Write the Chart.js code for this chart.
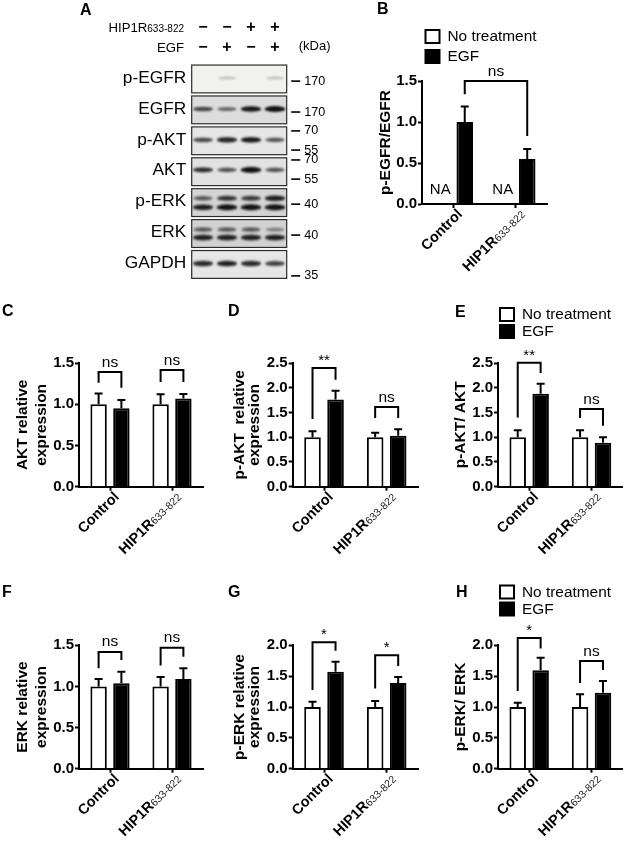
<!DOCTYPE html>
<html>
<head>
<meta charset="utf-8">
<script src="https://cdn.jsdelivr.net/npm/chart.js@4"></script>
<style>
  html, body { margin: 0; background: #fff; }
  #page { position: relative; width: 626px; height: 842px; overflow: hidden; }
  canvas { position: absolute; }
  .tag { position: absolute; font: bold 16px "Liberation Sans", Arial, sans-serif; color: #000; line-height: 18px; }
</style>
</head>
<body>
<div id="page"></div>
<script>
const FONT = '"Liberation Sans", Arial, sans-serif';

// panel A: western blots
const blotRows = ["p-EGFR", "EGFR", "p-AKT", "AKT", "p-ERK", "ERK", "GAPDH"];
const blotShade = ["#f1f1ef", "#dcdcdc", "#e6e6e6", "#e2e2e2", "#d4d4d4", "#d2d2d2", "#e6e6e6"];
const lanes = [1, 2, 3, 4];
const hipSigns = ["−", "−", "+", "+"];
const egfSigns = ["−", "+", "−", "+"];
const bandY = [-0.03, 0.97, 1.97, 2.94, 3.86, 4.15, 4.87, 5.13, 5.97];
const bandStrength = [
    [0, 0.22, 0, 0.22],
    [0.7, 0.55, 0.92, 1],
    [0.7, 0.85, 0.92, 0.65],
    [0.82, 0.65, 1, 0.65],
    [0.6, 0.8, 0.75, 0.9],
    [0.9, 1, 1, 1],
    [0.6, 0.6, 0.6, 0.45],
    [0.9, 0.9, 0.9, 0.9],
    [0.85, 0.9, 0.85, 0.75]
];
const markerY = [0.07, 1.07, 1.68, 2.3, 2.62, 3.24, 4.05, 5.05, 6.37];
const markerText = ["170", "170", "70", "55", "70", "55", "40", "40", "35"];

// bar panels
const groups = ["Control", "HIP1R633-822"];
const series = ["No treatment", "EGF"];

const pegfrNone = [null, null];
const pegfrEgf = [1.0, 0.55];
const pegfrEgfTop = [1.19, 0.67];

const aktNone = [1.0, 1.0];
const aktEgf = [0.95, 1.07];
const aktNoneTop = [1.13, 1.12];
const aktEgfTop = [1.05, 1.125];

const paktNone = [1.0, 1.0];
const paktEgf = [1.76, 1.03];
const paktNoneTop = [1.12, 1.09];
const paktEgfTop = [1.94, 1.16];

const paktRatioNone = [1.0, 1.0];
const paktRatioEgf = [1.88, 0.89];
const paktRatioNoneTop = [1.14, 1.14];
const paktRatioEgfTop = [2.08, 1.0];

const erkNone = [1.0, 1.0];
const erkEgf = [1.04, 1.09];
const erkNoneTop = [1.09, 1.115];
const erkEgfTop = [1.18, 1.22];

const perkNone = [1.0, 1.0];
const perkEgf = [1.57, 1.39];
const perkNoneTop = [1.086, 1.097];
const perkEgfTop = [1.735, 1.486];

const perkRatioNone = [1.0, 1.0];
const perkRatioEgf = [1.595, 1.23];
const perkRatioNoneTop = [1.07, 1.206];
const perkRatioEgfTop = [1.8, 1.42];

const page = document.getElementById("page");

function addCanvas(box) {
    const c = document.createElement("canvas");
    c.width = box.right - box.left;
    c.height = box.bottom - box.top;
    c.style.left = box.left + "px";
    c.style.top = box.top + "px";
    c.style.width = c.width + "px";
    c.style.height = c.height + "px";
    page.appendChild(c);
    return c.getContext("2d");
}

function addTag(text, x, y) {
    const d = document.createElement("div");
    d.className = "tag";
    d.textContent = text;
    d.style.left = x + "px";
    d.style.top = (y - 9) + "px";
    page.appendChild(d);
}

// ---- panel A ----
const bandCache = {};
function bandImage(s) {
    if (bandCache[s]) return bandCache[s];
    const c = document.createElement("canvas");
    c.width = 30;
    c.height = 16;
    const g = c.getContext("2d");
    g.filter = "blur(1.1px)";
    g.fillStyle = "rgba(15,15,15," + Math.min(1, s * 1.05) + ")";
    g.beginPath();
    g.ellipse(15, 8, 8.5 + s * 2, 0.9 + s * 2.1, 0, 0, Math.PI * 2);
    g.fill();
    bandCache[s] = c;
    return c;
}

const bandPoints = [];
bandY.forEach((y, i) => {
    lanes.forEach((lane, j) => {
        if (bandStrength[i][j] > 0) bandPoints.push({ x: lane, y: y, s: bandStrength[i][j] });
    });
});

const blotBox = { left: 90, top: 0, right: 350, bottom: 296 };
new Chart(addCanvas(blotBox), {
    type: "scatter",
    data: {
        datasets: [{
            data: bandPoints,
            pointStyle: (ctx) => bandImage(ctx.raw.s),
            pointRadius: 8
        }]
    },
    options: {
        responsive: false,
        animation: false,
        events: [],
        layout: { padding: { left: 191.7 - blotBox.left, right: blotBox.right - 286.7, top: 63.5, bottom: blotBox.bottom - 279.9 } },
        scales: {
            x: { display: false, min: 0.53, max: 4.49 },
            y: { display: false, reverse: true, min: -0.5, max: 6.5 }
        },
        plugins: { legend: { display: false }, tooltip: { enabled: false } }
    },
    plugins: [{
        id: "blotFrames",
        beforeDatasetsDraw(chart) {
            const { ctx, chartArea, scales } = chart;
            ctx.save();
            blotRows.forEach((name, i) => {
                const top = scales.y.getPixelForValue(i - 0.45);
                const bottom = scales.y.getPixelForValue(i + 0.45);
                ctx.fillStyle = blotShade[i];
                ctx.fillRect(chartArea.left, top, chartArea.width, bottom - top);
                ctx.strokeStyle = "#2b2b2b";
                ctx.lineWidth = 1.2;
                ctx.strokeRect(chartArea.left, top, chartArea.width, bottom - top);
                ctx.fillStyle = "#000";
                ctx.font = "17.3px " + FONT;
                ctx.textAlign = "right";
                ctx.textBaseline = "middle";
                ctx.fillText(name, chartArea.left - 5.5, (top + bottom) / 2 - 1);
            });
            ctx.restore();
        },
        afterDatasetsDraw(chart) {
            const { ctx, chartArea, scales } = chart;
            ctx.save();
            ctx.fillStyle = "#000";
            ctx.strokeStyle = "#000";
            ctx.textBaseline = "middle";

            // kDa ladder
            markerY.forEach((v, i) => {
                const y = scales.y.getPixelForValue(v);
                ctx.lineWidth = 1.6;
                ctx.beginPath();
                ctx.moveTo(chartArea.right + 4.5, y);
                ctx.lineTo(chartArea.right + 13.5, y);
                ctx.stroke();
                ctx.font = "12.6px " + FONT;
                ctx.textAlign = "left";
                ctx.fillText(markerText[i], chartArea.right + 17.5, y);
            });
            ctx.font = "13px " + FONT;
            ctx.fillText("(kDa)", 298.7 - blotBox.left, 46);

            // treatment header
            ctx.textAlign = "center";
            ctx.font = "bold 16px " + FONT;
            lanes.forEach((lane, i) => {
                const x = scales.x.getPixelForValue(lane);
                ctx.fillText(hipSigns[i], x, 28);
                ctx.fillText(egfSigns[i], x, 48);
            });
            ctx.textAlign = "right";
            ctx.font = "10px " + FONT;
            ctx.fillText("633-822", 184 - blotBox.left, 29);
            const w = ctx.measureText("633-822").width;
            ctx.font = "13.2px " + FONT;
            ctx.fillText("HIP1R", 184 - blotBox.left - w, 28);
            ctx.fillText("EGF", 184 - blotBox.left, 48);
            ctx.restore();
        }
    }]
});

// ---- bar panels ----
const barExtras = {
    id: "barExtras",
    afterDatasetsDraw(chart) {
        const { ctx, scales, chartArea } = chart;
        const cfg = chart.options.plugins.barExtras;
        const yPx = (v) => scales.y.getPixelForValue(v);
        const barX = (g, s) => chart.getDatasetMeta(s).data[g].x;
        ctx.save();
        ctx.strokeStyle = "#000";
        ctx.fillStyle = "#000";
        ctx.lineWidth = 2;

        // error bars, upper side only
        [cfg.noneTop, cfg.egfTop].forEach((tops, s) => {
            if (!tops) return;
            const vals = chart.data.datasets[s].data;
            tops.forEach((t, g) => {
                const x = barX(g, s);
                ctx.beginPath();
                ctx.moveTo(x, yPx(vals[g]));
                ctx.lineTo(x, yPx(t));
                ctx.moveTo(x - 4, yPx(t));
                ctx.lineTo(x + 4, yPx(t));
                ctx.stroke();
            });
        });

        // significance brackets
        cfg.brackets.forEach((b) => {
            const x1 = barX(b.from[0], b.from[1]);
            const x2 = barX(b.to[0], b.to[1]);
            ctx.lineJoin = "miter";
            ctx.beginPath();
            ctx.moveTo(x1, yPx(b.leftEnd));
            ctx.lineTo(x1, yPx(b.top));
            ctx.lineTo(x2, yPx(b.top));
            ctx.lineTo(x2, yPx(b.rightEnd));
            ctx.stroke();
            ctx.textAlign = "center";
            ctx.textBaseline = "alphabetic";
            if (b.text === "ns") {
                ctx.font = "15.5px " + FONT;
                ctx.fillText(b.text, (x1 + x2) / 2, yPx(b.top) - 5.5);
            } else {
                ctx.font = "15px " + FONT;
                ctx.fillText(b.text, (x1 + x2) / 2, yPx(b.top) - 3);
            }
        });

        // NA markers where a series has no value
        chart.data.datasets[0].data.forEach((v, g) => {
            if (v !== null) return;
            ctx.font = "15px " + FONT;
            ctx.textAlign = "center";
            ctx.textBaseline = "middle";
            ctx.fillText("NA", barX(g, 0) - 1.5, chartArea.bottom - 14);
        });

        // rotated group labels
        chart.data.labels.forEach((label, g) => {
            const m = label.match(/^(HIP1R)(.+)$/);
            ctx.save();
            ctx.translate(scales.x.getPixelForValue(g) + 7, chartArea.bottom + 8);
            ctx.rotate(-Math.PI / 4);
            ctx.textAlign = "right";
            ctx.textBaseline = "middle";
            if (m) {
                ctx.font = "10.5px " + FONT;
                ctx.fillStyle = "#222";
                ctx.fillText(m[2], 0, 1.5);
                const w = ctx.measureText(m[2]).width;
                ctx.font = "bold 14.5px " + FONT;
                ctx.fillStyle = "#000";
                ctx.fillText(m[1], -w, 0);
            } else {
                ctx.font = "bold 14.5px " + FONT;
                ctx.fillText(label, 0, 0);
            }
            ctx.restore();
        });

        // legend
        if (cfg.legend) {
            const box = chart.canvas.getBoundingClientRect();
            const pageBox = page.getBoundingClientRect();
            const ox = box.left - pageBox.left;
            const oy = box.top - pageBox.top;
            chart.data.datasets.forEach((d, s) => {
                const top = cfg.legend.y[s] - oy;
                const left = cfg.legend.x - ox;
                ctx.fillStyle = d.backgroundColor;
                ctx.fillRect(left, top, 14, 13);
                ctx.lineWidth = 2;
                ctx.strokeRect(left, top, 14, 13);
                ctx.fillStyle = "#000";
                ctx.font = "15.4px " + FONT;
                ctx.textAlign = "left";
                ctx.textBaseline = "middle";
                ctx.fillText(d.label, left + 22, top + 7);
            });
        }
        ctx.restore();
    }
};

function barPanel(p) {
    new Chart(addCanvas(p.box), {
        type: "bar",
        data: {
            labels: groups,
            datasets: [
                { label: series[0], data: p.none, backgroundColor: "#fff", borderColor: "#000", borderWidth: 2 },
                { label: series[1], data: p.egf, backgroundColor: "#000", borderColor: "#000", borderWidth: 2 }
            ]
        },
        options: {
            responsive: false,
            animation: false,
            events: [],
            categoryPercentage: 0.735,
            barPercentage: 0.72,
            layout: {
                padding: {
                    left: p.titleLeft - p.box.left,
                    right: p.box.right - p.plot.right,
                    top: p.plot.top - p.box.top,
                    bottom: p.box.bottom - p.plot.bottom - 6
                }
            },
            scales: {
                x: {
                    afterFit: (s) => { s.height = 6; },
                    border: { color: "#000", width: 2 },
                    grid: { offset: false, drawOnChartArea: false, tickLength: 4, tickWidth: 2, tickColor: "#000" },
                    ticks: { display: false }
                },
                y: {
                    min: 0,
                    max: p.yMax,
                    afterFit: (s) => { s.width = p.plot.left - p.titleLeft; },
                    border: { color: "#000", width: 2 },
                    grid: { drawOnChartArea: false, tickLength: 4, tickWidth: 2, tickColor: "#000" },
                    ticks: {
                        stepSize: 0.5,
                        padding: 1,
                        color: "#000",
                        font: { family: FONT, size: 15, weight: "bold" },
                        callback: (v) => v.toFixed(1)
                    },
                    title: {
                        display: true,
                        text: p.title,
                        color: "#000",
                        padding: 0,
                        font: { family: FONT, size: 15.5, weight: "bold", lineHeight: p.titleLine || 1.2 }
                    }
                }
            },
            plugins: {
                legend: { display: false },
                tooltip: { enabled: false },
                barExtras: { noneTop: p.noneTop, egfTop: p.egfTop, brackets: p.brackets, legend: p.legend }
            }
        },
        plugins: [barExtras]
    });
}

barPanel({
    box: { left: 372, top: 0, right: 562, bottom: 296 },
    plot: { left: 422, right: 547, top: 81, bottom: 204 },
    titleLeft: 376.7,
    yMax: 1.5,
    title: "p-EGFR/EGFR",
    none: pegfrNone,
    egf: pegfrEgf,
    noneTop: null,
    egfTop: pegfrEgfTop,
    legend: { x: 425.5, y: [30, 50] },
    brackets: [{ from: [0, 1], to: [1, 1], top: 1.5, leftEnd: 1.337, rightEnd: 0.83, text: "ns" }]
});

barPanel({
    box: { left: 0, top: 302, right: 216, bottom: 560 },
    plot: { left: 79, right: 203, top: 363, bottom: 486.7 },
    titleLeft: 13.4,
    yMax: 1.5,
    title: ["AKT relative", "expression"],
    none: aktNone,
    egf: aktEgf,
    noneTop: aktNoneTop,
    egfTop: aktEgfTop,
    brackets: [
        { from: [0, 0], to: [0, 1], top: 1.39, leftEnd: 1.26, rightEnd: 1.2, text: "ns" },
        { from: [1, 0], to: [1, 1], top: 1.415, leftEnd: 1.27, rightEnd: 1.27, text: "ns" }
    ]
});

barPanel({
    box: { left: 218, top: 302, right: 424, bottom: 560 },
    plot: { left: 292.7, right: 418, top: 363, bottom: 486.7 },
    titleLeft: 231.5,
    titleLine: 1,
    yMax: 2.5,
    title: ["p-AKT  relative", "expression"],
    none: paktNone,
    egf: paktEgf,
    noneTop: paktNoneTop,
    egfTop: paktEgfTop,
    brackets: [
        { from: [0, 0], to: [0, 1], top: 2.4, leftEnd: 1.37, rightEnd: 2.16, text: "**" },
        { from: [1, 0], to: [1, 1], top: 1.61, leftEnd: 1.39, rightEnd: 1.39, text: "ns" }
    ]
});

barPanel({
    box: { left: 445, top: 302, right: 626, bottom: 560 },
    plot: { left: 498, right: 622.7, top: 363, bottom: 486.7 },
    titleLeft: 451.4,
    yMax: 2.5,
    title: "p-AKT/ AKT",
    none: paktRatioNone,
    egf: paktRatioEgf,
    noneTop: paktRatioNoneTop,
    egfTop: paktRatioEgfTop,
    legend: { x: 500, y: [308, 325] },
    brackets: [
        { from: [0, 0], to: [0, 1], top: 2.505, leftEnd: 1.4, rightEnd: 2.3, text: "**" },
        { from: [1, 0], to: [1, 1], top: 1.57, leftEnd: 1.39, rightEnd: 1.23, text: "ns" }
    ]
});

barPanel({
    box: { left: 0, top: 582, right: 216, bottom: 842 },
    plot: { left: 79, right: 203, top: 645.3, bottom: 768.7 },
    titleLeft: 13.4,
    yMax: 1.5,
    title: ["ERK relative", "expression"],
    none: erkNone,
    egf: erkEgf,
    noneTop: erkNoneTop,
    egfTop: erkEgfTop,
    brackets: [
        { from: [0, 0], to: [0, 1], top: 1.42, leftEnd: 1.22, rightEnd: 1.32, text: "ns" },
        { from: [1, 0], to: [1, 1], top: 1.47, leftEnd: 1.255, rightEnd: 1.36, text: "ns" }
    ]
});

barPanel({
    box: { left: 218, top: 582, right: 424, bottom: 842 },
    plot: { left: 292.7, right: 418, top: 645.3, bottom: 768.7 },
    titleLeft: 231.5,
    titleLine: 1,
    yMax: 2,
    title: ["p-ERK relative", "expression"],
    none: perkNone,
    egf: perkEgf,
    noneTop: perkNoneTop,
    egfTop: perkEgfTop,
    brackets: [
        { from: [0, 0], to: [0, 1], top: 2.05, leftEnd: 1.275, rightEnd: 1.91, text: "*" },
        { from: [1, 0], to: [1, 1], top: 1.84, leftEnd: 1.3, rightEnd: 1.665, text: "*" }
    ]
});

barPanel({
    box: { left: 445, top: 582, right: 626, bottom: 842 },
    plot: { left: 498, right: 622.7, top: 645.3, bottom: 768.7 },
    titleLeft: 451.4,
    yMax: 2,
    title: "p-ERK/ ERK",
    none: perkRatioNone,
    egf: perkRatioEgf,
    noneTop: perkRatioNoneTop,
    egfTop: perkRatioEgfTop,
    legend: { x: 500, y: [585.5, 602.5] },
    brackets: [
        { from: [0, 0], to: [0, 1], top: 2.12, leftEnd: 1.26, rightEnd: 1.95, text: "*" },
        { from: [1, 0], to: [1, 1], top: 1.745, leftEnd: 1.39, rightEnd: 1.6, text: "ns" }
    ]
});

addTag("A", 80, 10);
addTag("B", 377, 9);
addTag("C", 2, 311);
addTag("D", 228, 311);
addTag("E", 455, 312);
addTag("F", 2, 592);
addTag("G", 228, 592);
addTag("H", 456, 592);
</script>
</body>
</html>
